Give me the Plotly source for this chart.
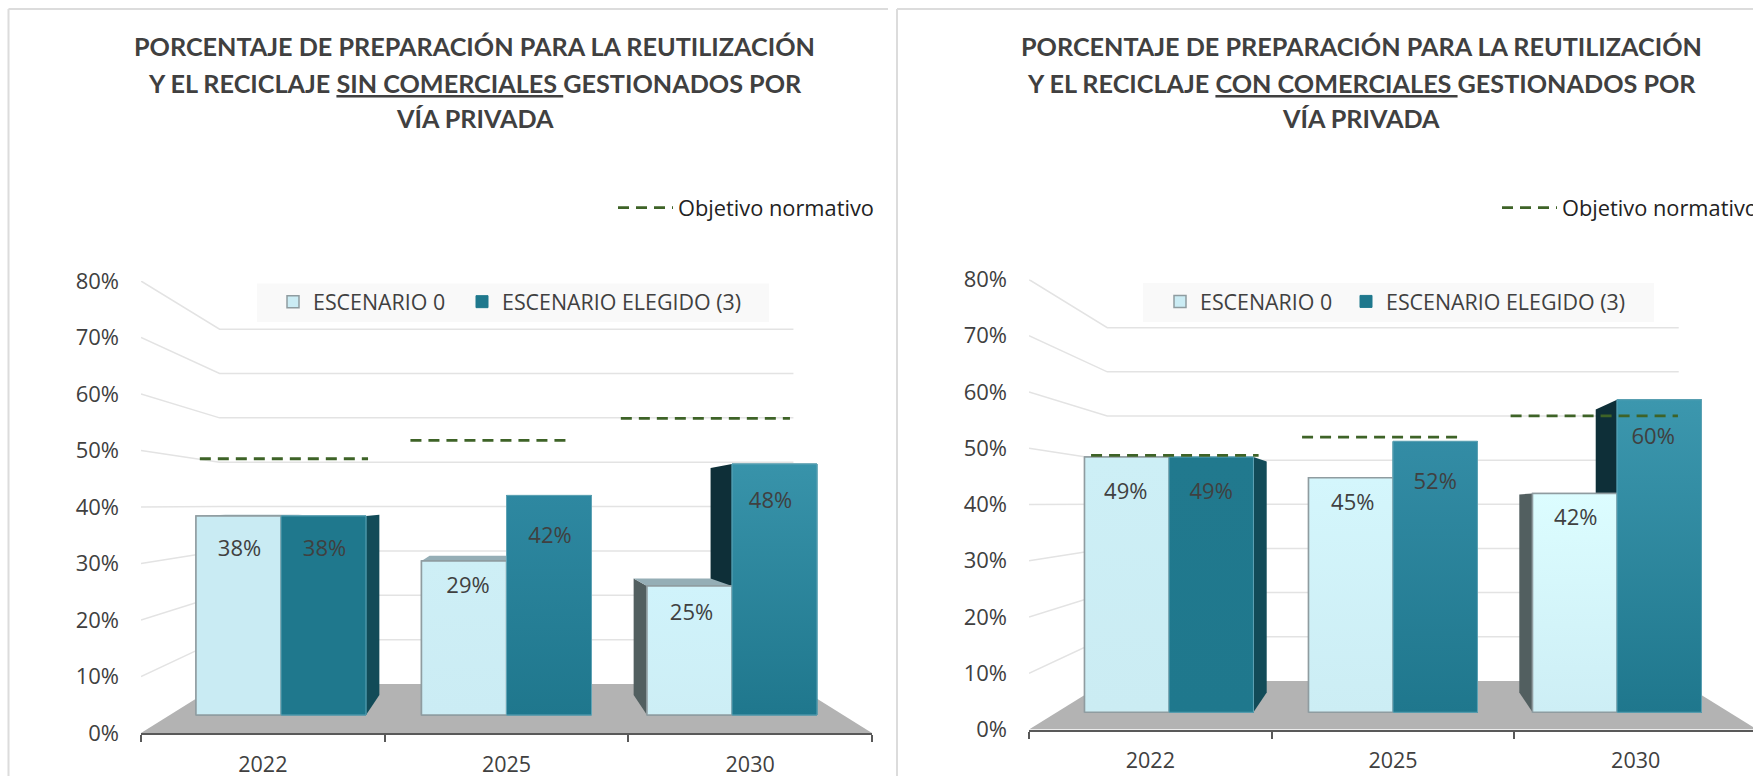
import plotly.graph_objects as go

# ---- chart values ----
YEARS = ["2022", "2025", "2030"]
AXIS_TICKS = [0, 10, 20, 30, 40, 50, 60, 70, 80]
SERIES_NAMES = ["ESCENARIO 0", "ESCENARIO ELEGIDO (3)"]
OBJ_NAME = "Objetivo normativo"

SIN_ESC0 = [38, 29.4, 24.6]
SIN_ELEG = [38, 41.9, 47.9]
SIN_OBJ = [48.9, 52.4, 56.6]
CON_ESC0 = [49, 45, 42]
CON_ELEG = [49, 52, 60]
CON_OBJ = [49.3, 52.8, 56.9]

TITLE_1 = "PORCENTAJE DE PREPARACIÓN PARA LA REUTILIZACIÓN"
TITLE_3 = "VÍA PRIVADA"
TITLE_2_SIN = "SIN COMERCIALES"
TITLE_2_CON = "CON COMERCIALES"

# ---- styles ----
W, H = 1753, 776
FONT = "Open Sans"
TITLE_FONT = "Lato"
TXT = "#404040"
GRID = "#e3e3e3"
FLOOR = "#b3b3b3"
TOP_FACE = "#95aeb6"
SIDE_RIGHT = "#124b58"
SIDE_LEFT_ESC0 = "#525f60"
SIDE_LEFT_ELEG = "#0e2f38"
ESC0_COLOR = "#cbecf4"
ELEG_COLOR = "#1f788d"
ESC0_EDGE = "#8f9ca0"
ELEG_EDGE = "#5fa3b5"
OBJ_COLOR = "#3e6327"
BAR_WIDTH = 0.377
BACK_K = 0.905
WALL_K = 0.785

PANELS = [
    dict(title2=TITLE_2_SIN, esc0=SIN_ESC0, eleg=SIN_ELEG, obj=SIN_OBJ,
         ax_l=141, ax_unit=243.67, ax_bot=733, ax_top=281,
         bar_c0=281, bar_unit=225.5, bar_base=715, bar_scale=5.24,
         horizon=505, right=872, title_x=474.5,
         obj_span=[(-.36, .386), (.574, 1.275), (1.507, 2.257)],
         esc0_grad=[("#c9ebf3", "#c9ebf3"), ("#cbecf4", "#ceeff6"), ("#cdeef5", "#d0f3fb")],
         eleg_grad=[("#1f788d", "#1f788d"), ("#1f778d", "#2e88a1"), ("#1f778d", "#3893aa")],
         drop0=[35, 27, 28], drop1=[35, 42, 38],
         shift0=[1, 4, 2], shift1=[1, 1, -4],
         box=(257, 769, 283.5, 322), leg_text=(313, 502), obj_text=678),
    dict(title2=TITLE_2_CON, esc0=CON_ESC0, eleg=CON_ELEG, obj=CON_OBJ,
         ax_l=1029, ax_unit=242.67, ax_bot=729.5, ax_top=279.5,
         bar_c0=1169, bar_unit=224, bar_base=712.3, bar_scale=5.21,
         horizon=503.5, right=1753, title_x=1361,
         obj_span=[(-.348, .4), (.594, 1.299), (1.525, 2.272)],
         esc0_grad=[("#cbecf3", "#cdeff6"), ("#ccedf4", "#d4f6fc"), ("#cdeef5", "#dcfdff")],
         eleg_grad=[("#1f788d", "#21798e"), ("#1f778d", "#338ca5"), ("#1f778d", "#3c97ae")],
         drop0=[36, 27, 26], drop1=[36, 42, 39],
         shift0=[-1, 2, 1], shift1=[0, 0, -6],
         box=(1143, 1654, 283, 322), leg_text=(1200, 1386), obj_text=1562),
]

fig = go.Figure()
shapes, annotations = [], []
layout = {}


def path(points):
    return "M " + " L ".join(f"{x:.4f},{y:.4f}" for x, y in points) + " Z"


for line in [dict(x0=8.5, x1=8.5, y0=9, y1=H), dict(x0=8.5, x1=888, y0=9, y1=9),
             dict(x0=897, x1=897, y0=9, y1=H), dict(x0=897, x1=W, y0=9, y1=9)]:
    shapes.append(dict(type="line", xref="paper", yref="paper", layer="below",
                       x0=line["x0"] / W, x1=line["x1"] / W,
                       y0=1 - line["y0"] / H, y1=1 - line["y1"] / H,
                       line=dict(color="#dcdcdc", width=2)))

for idx, p in enumerate(PANELS):
    n = idx * 2
    xa, ya = f"x{n + 1 if n else ''}", f"y{n + 1 if n else ''}"
    xb, yb = f"x{n + 2}", f"y{n + 2}"
    xa_key, ya_key = f"xaxis{n + 1 if n else ''}", f"yaxis{n + 1 if n else ''}"
    xb_key, yb_key = f"xaxis{n + 2}", f"yaxis{n + 2}"
    base = idx * 3
    leg_esc0 = f"legend{base + 1 if base else ''}"
    leg_eleg = f"legend{base + 2}"
    leg_obj = f"legend{base + 3}"

    dom_x = [p["ax_l"] / W, p["right"] / W]
    dom_y = [1 - p["ax_bot"] / H, 1 - p["ax_top"] / H]
    span_x = p["right"] - p["ax_l"]

    layout[xa_key] = dict(domain=dom_x, anchor=ya, range=[-0.5, -0.5 + span_x / p["ax_unit"]],
                          tickmode="array", tickvals=[0, 1, 2], ticktext=YEARS, ticks="",
                          ticklen=0, showgrid=False, zeroline=False,
                          showline=True, linecolor="#595959", linewidth=2,
                          ticklabelstandoff=11, tickfont=dict(family=FONT, size=21.5, color=TXT),
                          minor=dict(tickmode="array", tickvals=[-.5, .5, 1.5, 2.5],
                                     ticks="outside", ticklen=7, tickwidth=1.5,
                                     tickcolor="#595959", showgrid=False))
    layout[ya_key] = dict(domain=dom_y, anchor=xa, range=[0, 80], tickmode="array",
                          tickvals=AXIS_TICKS, ticktext=[f"{t}%" for t in AXIS_TICKS],
                          ticks="", showgrid=False, zeroline=False, showline=False,
                          ticklabelstandoff=21, tickfont=dict(family=FONT, size=22, color=TXT))
    layout[xb_key] = dict(domain=dom_x, anchor=yb, overlaying=xa, visible=False,
                          range=[(p["ax_l"] - p["bar_c0"]) / p["bar_unit"],
                                 (p["right"] - p["bar_c0"]) / p["bar_unit"]])
    layout[yb_key] = dict(domain=dom_y, anchor=xb, overlaying=ya, visible=False,
                          range=[(p["bar_base"] - p["ax_bot"]) / p["bar_scale"],
                                 (p["bar_base"] - p["ax_top"]) / p["bar_scale"]])

    # perspective centre, in the units of each axis
    wall_scale = (p["ax_bot"] - p["ax_top"]) / 80
    wall_vy = (p["ax_bot"] - p["horizon"]) / wall_scale
    bar_vy = (p["bar_base"] - p["horizon"]) / p["bar_scale"]
    bar_vx = 1.0

    def wall_back(x, v):
        return 1 + (x - 1) * WALL_K, wall_vy + (v - wall_vy) * WALL_K

    def bar_back(x, v):
        return bar_vx + (x - bar_vx) * BACK_K, bar_vy + (v - bar_vy) * BACK_K

    # floor
    shapes.append(dict(type="path", xref=xa, yref=ya, layer="below", line=dict(width=0),
                       fillcolor=FLOOR,
                       path=path([(-.5, 0), (2.5, 0), wall_back(2.5, 0), wall_back(-.5, 0)])))
    # walls
    for t in AXIS_TICKS[1:]:
        lb, rb = wall_back(-.5, t), wall_back(2.5, t)
        shapes.append(dict(type="path", xref=xa, yref=ya, layer="below",
                           line=dict(color=GRID, width=1.5),
                           path=f"M -0.5,{t} L {lb[0]:.4f},{lb[1]:.4f} L {rb[0]:.4f},{rb[1]:.4f}"))

    # bar depth faces, from the values
    for i in range(len(YEARS)):
        v0, v1 = p["esc0"][i], p["eleg"][i]
        x0, xm, x1 = i - BAR_WIDTH, i, i + BAR_WIDTH
        faces = []
        if x1 < bar_vx:
            faces.append(([(x1, 0), (x1, v1), bar_back(x1, v1), bar_back(x1, 0)], SIDE_RIGHT))
        if x0 > bar_vx:
            faces.append(([(x0, 0), (x0, v0), bar_back(x0, v0), bar_back(x0, 0)], SIDE_LEFT_ESC0))
        if xm > bar_vx and v1 > v0:
            faces.append(([(xm, 0), (xm, v1), bar_back(xm, v1), bar_back(xm, 0)], SIDE_LEFT_ELEG))
        if v0 < bar_vy:
            faces.append(([(x0, v0), (xm, v0), bar_back(xm, v0), bar_back(x0, v0)], TOP_FACE))
        for pts, col in faces:
            shapes.append(dict(type="path", xref=xb, yref=yb, layer="below",
                               line=dict(width=0), fillcolor=col, path=path(pts)))

    # bars
    fig.add_trace(go.Bar(x=[0, 1, 2], y=p["esc0"], name=SERIES_NAMES[0], width=BAR_WIDTH,
                         offset=-BAR_WIDTH, xaxis=xb, yaxis=yb, legend=leg_esc0,
                         marker=dict(color=ESC0_COLOR, line=dict(color=ESC0_EDGE, width=1.5)),
                         hoverinfo="skip"))
    fig.add_trace(go.Bar(x=[0, 1, 2], y=p["eleg"], name=SERIES_NAMES[1], width=BAR_WIDTH,
                         offset=0, xaxis=xb, yaxis=yb, legend=leg_eleg,
                         marker=dict(color=ELEG_COLOR, line=dict(color=ELEG_COLOR, width=1)),
                         hoverinfo="skip"))

    # shading on the front faces, from the same values
    for vals, grads, off, edge in [(p["esc0"], p["esc0_grad"], -BAR_WIDTH, ESC0_EDGE),
                                   (p["eleg"], p["eleg_grad"], 0, ELEG_EDGE)]:
        for i, v in enumerate(vals):
            a, b = i + off, i + off + BAR_WIDTH
            fig.add_trace(go.Scatter(x=[a, b, b, a, a], y=[0, 0, v, v, 0], mode="lines",
                                     line=dict(color=edge, width=1.5 if off else 1),
                                     fill="toself",
                                     fillgradient=dict(type="vertical", start=0, stop=v,
                                                       colorscale=[[0, grads[i][0]], [1, grads[i][1]]]),
                                     xaxis=xb, yaxis=yb, showlegend=False, hoverinfo="skip"))

    # value labels
    lx, ly, lt = [], [], []
    for vals, drops, shifts, off in [(p["esc0"], p["drop0"], p["shift0"], -BAR_WIDTH / 2),
                                     (p["eleg"], p["drop1"], p["shift1"], BAR_WIDTH / 2)]:
        for i, v in enumerate(vals):
            lx.append(i + off + shifts[i] / p["bar_unit"])
            ly.append(v - drops[i] / p["bar_scale"])
            lt.append(f"{round(v)}%")
    fig.add_trace(go.Scatter(x=lx, y=ly, text=lt, mode="text", xaxis=xb, yaxis=yb,
                             textposition="middle center",
                             textfont=dict(family=FONT, size=22, color=TXT),
                             showlegend=False, hoverinfo="skip"))

    # target
    ox, oy = [], []
    for (s, e), v in zip(p["obj_span"], p["obj"]):
        ox += [s, e, None]
        oy += [v, v, None]
    fig.add_trace(go.Scatter(x=ox, y=oy, mode="lines", name=OBJ_NAME, xaxis=xb, yaxis=yb,
                             legend=leg_obj, hoverinfo="skip",
                             line=dict(color=OBJ_COLOR, width=2.8, dash="11px,7px")))

    # legends
    bx0, bx1, by0, by1 = p["box"]
    shapes.append(dict(type="rect", xref="paper", yref="paper", layer="below",
                       x0=bx0 / W, x1=bx1 / W, y0=1 - by0 / H, y1=1 - by1 / H,
                       line=dict(width=0), fillcolor="#f9f9f9"))
    for key, tx in zip([leg_esc0, leg_eleg], p["leg_text"]):
        layout[key] = dict(orientation="h", x=(tx - 40) / W, xanchor="left",
                           y=1 - ((by0 + by1) / 2 - 1) / H, yanchor="middle", bgcolor="rgba(0,0,0,0)",
                           itemclick=False, font=dict(family=FONT, size=21.4, color=TXT))
    layout[leg_obj] = dict(orientation="h", x=(p["obj_text"] - 65) / W, xanchor="left",
                           y=1 - 208 / H, yanchor="middle", bgcolor="rgba(0,0,0,0)",
                           itemwidth=55, itemclick=False,
                           font=dict(family=FONT, size=21.8, color="#222222"))

    # title
    under = f'<span style="text-decoration:underline">{p["title2"]}&nbsp;</span>'
    lines = [TITLE_1, f"Y EL RECICLAJE {under}GESTIONADOS POR", TITLE_3]
    for text, py in zip(lines, [46, 83, 117.5]):
        annotations.append(dict(text=f"<b>{text}</b>", xref="paper", yref="paper",
                                x=p["title_x"] / W, y=1 - py / H, xanchor="center",
                                yanchor="middle", showarrow=False,
                                font=dict(family=TITLE_FONT, size=25.2, color=TXT)))

fig.update_layout(width=W, height=H, autosize=False, paper_bgcolor="white", plot_bgcolor="rgba(0,0,0,0)",
                  margin=dict(l=0, r=0, t=0, b=0, pad=0, autoexpand=False),
                  barmode="overlay", showlegend=True,
                  shapes=shapes, annotations=annotations, **layout)

fig.write_html("out.html", post_script="document.body.style.margin='0';",
               config=dict(displayModeBar=False))
